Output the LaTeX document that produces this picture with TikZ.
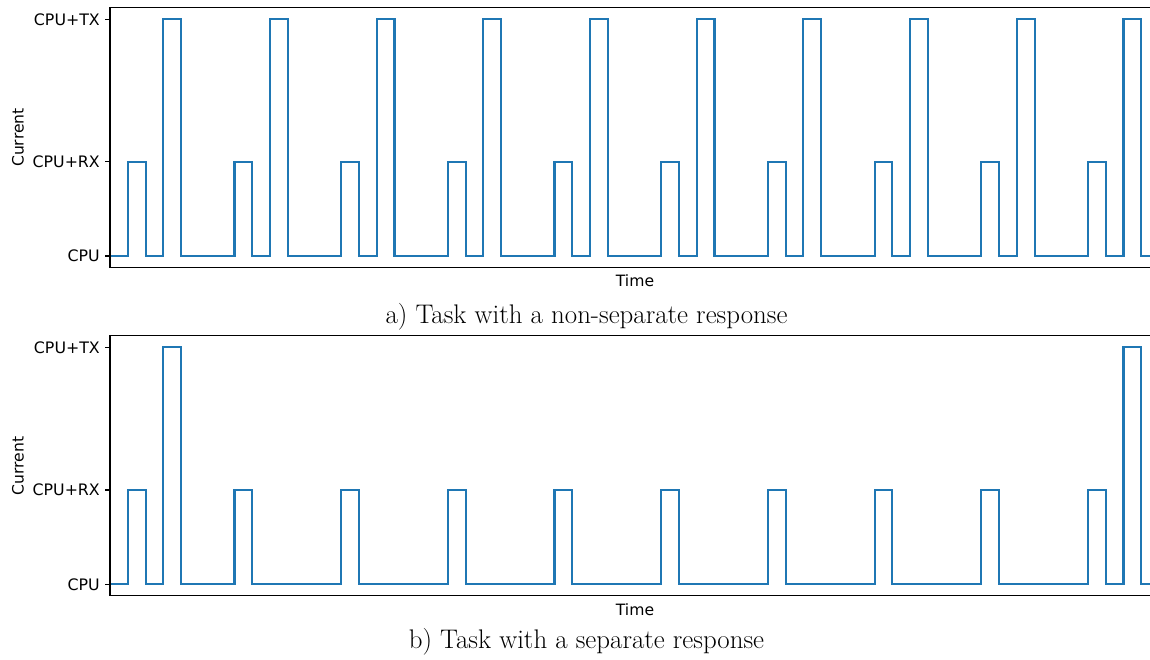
\documentclass[tikz,border=0pt]{standalone}
\usepackage{fontspec}
\newfontfamily\dv{DejaVu Sans}
\definecolor{mplblue}{HTML}{1F77B4}
\begin{document}
\begin{tikzpicture}[x=1pt,y=-1pt,
  sig/.style={mplblue,line width=2.1pt,line join=miter,line cap=rect},
  spine/.style={black,line width=1.1pt},
  tickmark/.style={black,line width=1.1pt},
  ticklbl/.style={font=\dv\fontsize{15.8}{18}\selectfont,anchor=east,inner sep=0pt},
  axlbl/.style={font=\dv\fontsize{15.6}{18}\selectfont,inner sep=0pt},
  caption/.style={font=\fontsize{26.9}{31}\selectfont,anchor=base,inner sep=0pt}]
\useasboundingbox (0,0) rectangle (1150,659);
% ---------------- top plot (a) ----------------
\begin{scope}
  \clip (0,0) rectangle (1150,659);
  \draw[sig] (110,256)
    foreach \k in {0,...,9}{
      -- ({110+(6*\k+1)*17.78},256) -- ({110+(6*\k+1)*17.78},161.7)
      -- ({110+(6*\k+2)*17.78},161.7) -- ({110+(6*\k+2)*17.78},256)
      -- ({110+(6*\k+3)*17.78},256) -- ({110+(6*\k+3)*17.78},19.3)
      -- ({110+(6*\k+4)*17.78},19.3) -- ({110+(6*\k+4)*17.78},256)
    } -- (1160,256);
\end{scope}
\coordinate (atr) at (1150,7.3);
\coordinate (atl) at (110,7.3);
\coordinate (abl) at (110,267.7);
\coordinate (abr) at (1150,267.7);
\draw[spine] (atr) -- (atl) -- (abl) -- (abr);
\foreach \y/\n/\t in {19.3/atx/CPU+TX,161.7/arx/CPU+RX,256/acpu/CPU}{
  \coordinate (\n) at (110,\y);
  \draw[tickmark] (\n) -- ++(-5,0);
  \node[ticklbl] (\n l) at (100,\y) {\t};
}
\node[axlbl,rotate=90] (acur) at (18,137.5) {Current};
\node[axlbl,anchor=base] (atime) at (635,286.7) {Time};
\node[caption] (acap) at (586.5,323) {a) Task with a non-separate response};
% ---------------- bottom plot (b) ----------------
\begin{scope}
  \clip (0,0) rectangle (1150,659);
  \draw[sig] (110,584.3)
    foreach \k in {0}{
      -- ({110+(6*\k+1)*17.78},584.3) -- ({110+(6*\k+1)*17.78},490)
      -- ({110+(6*\k+2)*17.78},490) -- ({110+(6*\k+2)*17.78},584.3)
      -- ({110+(6*\k+3)*17.78},584.3) -- ({110+(6*\k+3)*17.78},347.3)
      -- ({110+(6*\k+4)*17.78},347.3) -- ({110+(6*\k+4)*17.78},584.3)
    }
    foreach \k in {1,...,8}{
      -- ({110+(6*\k+1)*17.78},584.3) -- ({110+(6*\k+1)*17.78},490)
      -- ({110+(6*\k+2)*17.78},490) -- ({110+(6*\k+2)*17.78},584.3)
    }
    foreach \k in {9}{
      -- ({110+(6*\k+1)*17.78},584.3) -- ({110+(6*\k+1)*17.78},490)
      -- ({110+(6*\k+2)*17.78},490) -- ({110+(6*\k+2)*17.78},584.3)
      -- ({110+(6*\k+3)*17.78},584.3) -- ({110+(6*\k+3)*17.78},347.3)
      -- ({110+(6*\k+4)*17.78},347.3) -- ({110+(6*\k+4)*17.78},584.3)
    } -- (1160,584.3);
\end{scope}
\coordinate (btr) at (1150,335.7);
\coordinate (btl) at (110,335.7);
\coordinate (bbl) at (110,595.9);
\coordinate (bbr) at (1150,595.9);
\draw[spine] (btr) -- (btl) -- (bbl) -- (bbr);
\foreach \y/\n/\t in {347.3/btx/CPU+TX,490/brx/CPU+RX,584.3/bcpu/CPU}{
  \coordinate (\n) at (110,\y);
  \draw[tickmark] (\n) -- ++(-5,0);
  \node[ticklbl] (\n l) at (100,\y) {\t};
}
\node[axlbl,rotate=90] (bcur) at (18,465.9) {Current};
\node[axlbl,anchor=base] (btime) at (635,615) {Time};
\node[caption] (bcap) at (586.5,648.5) {b) Task with a separate response};
\end{tikzpicture}
\end{document}
